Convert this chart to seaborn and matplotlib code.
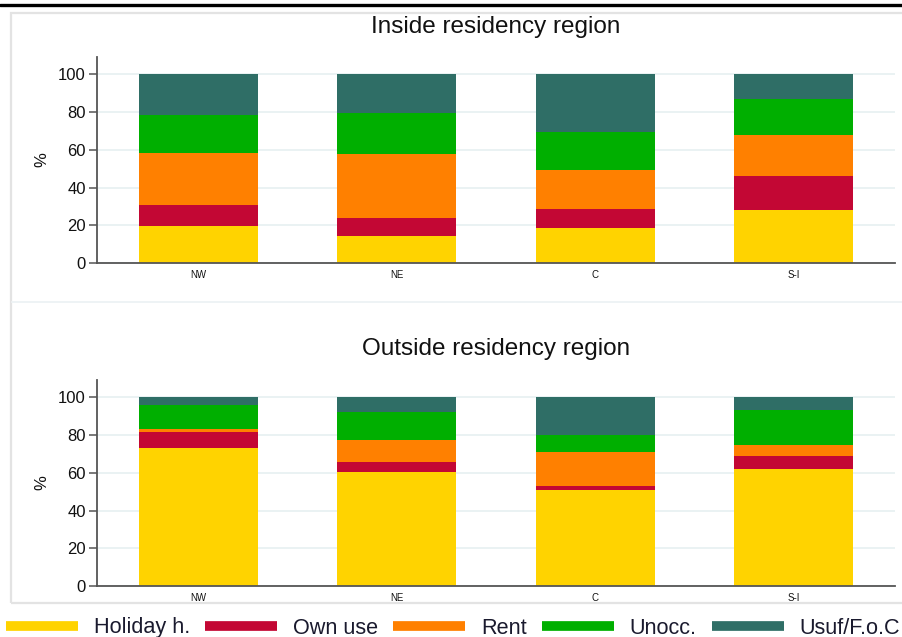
import numpy as np
import pandas as pd
import matplotlib
matplotlib.use("Agg")
import matplotlib.pyplot as plt
import seaborn as sns
from matplotlib.lines import Line2D
from matplotlib.patches import Rectangle

# Regions on the x axis
regions = ["NW", "NE", "C", "S-I"]

# Housing use shares (%) for dwellings inside the owner's residency region
inside_holiday = [19.4, 14.2, 18.4, 27.9]
inside_own_use = [11.2, 9.5, 10.1, 18.1]
inside_rent = [27.5, 33.9, 20.6, 21.6]
inside_unocc = [20.1, 21.7, 20.6, 19.1]
inside_usuf = [21.8, 20.7, 30.3, 13.3]

# Housing use shares (%) for dwellings outside the owner's residency region
outside_holiday = [73.0, 60.3, 50.8, 61.9]
outside_own_use = [8.5, 5.3, 2.1, 6.9]
outside_rent = [1.6, 11.6, 18.0, 5.8]
outside_unocc = [12.7, 14.9, 9.0, 18.5]
outside_usuf = [4.2, 7.9, 20.1, 6.9]

series_names = ["Holiday h.", "Own use", "Rent", "Unocc.", "Usuf/F.o.C"]
series_colors = ["#FFD300", "#C30734", "#FF8000", "#00AF00", "#2F6E66"]

yticks = [0, 20, 40, 60, 80, 100]

panels = [
    ("Inside residency region",
     [inside_holiday, inside_own_use, inside_rent, inside_unocc, inside_usuf]),
    ("Outside residency region",
     [outside_holiday, outside_own_use, outside_rent, outside_unocc, outside_usuf]),
]

sns.set_theme(style="white")
plt.rcParams["font.family"] = ["Liberation Sans", "DejaVu Sans"]

W, H = 902, 637
fig = plt.figure(figsize=(W / 100, H / 100), dpi=100)
fig.patch.set_facecolor("white")


def fx(px):
    return px / W


def fy(py):
    return 1 - py / H


# Outer frame and separators
fig.add_artist(Line2D([0, 1], [fy(4.5), fy(4.5)], color="black", lw=2.4,
                      transform=fig.transFigure))
fig.add_artist(Rectangle((fx(11), fy(603)), fx(920) - fx(11), fy(13) - fy(603),
                         transform=fig.transFigure, fill=False,
                         edgecolor="#E3E3E3", lw=1.6))
fig.add_artist(Line2D([fx(12), 1], [fy(302), fy(302)], color="#EEF3F5", lw=1.4,
                      transform=fig.transFigure))

axes_boxes = [(57, 263), (380, 586)]
title_y = [26.5, 349.5]

for (title, series), (top_px, bot_px), ty in zip(panels, axes_boxes, title_y):
    ax = fig.add_axes([fx(97), fy(bot_px), fx(895) - fx(97), (bot_px - top_px) / H])
    ax.set_facecolor("white")
    for y in yticks:
        ax.axhline(y, color="#EAF2F3", lw=1.4, zorder=0)

    cum = np.cumsum(np.array(series, dtype=float), axis=0)
    # Draw the cumulative totals from the top layer down so each layer shows
    for i in range(len(series) - 1, -1, -1):
        df = pd.DataFrame({"region": regions, "value": cum[i]})
        sns.barplot(data=df, x="region", y="value", order=regions,
                    color=series_colors[i], saturation=1, width=0.6,
                    edgecolor="none", linewidth=0, ax=ax, zorder=2)

    ax.set_xlim(-0.512, 3.512)
    ax.set_ylim(0, 109.2)
    ax.set_yticks(yticks)
    ax.set_yticklabels([str(v) for v in yticks])
    ax.tick_params(axis="y", left=True, length=6, width=1.1, color="#555555",
                   labelsize=12, pad=2, labelcolor="#111111")
    ax.tick_params(axis="x", bottom=False, length=0, labelsize=7, pad=5,
                   labelcolor="#111111")
    ax.set_xlabel("")
    ax.set_ylabel("%", fontsize=12, color="#111111")
    ax.yaxis.set_label_coords(-0.0595, 0.5)
    for side in ["top", "right"]:
        ax.spines[side].set_visible(False)
    for side in ["left", "bottom"]:
        ax.spines[side].set_color("#555555")
        ax.spines[side].set_linewidth(1.3)

    fig.text(fx(496), fy(ty), title, ha="center", va="center",
             fontsize=17.5, color="#111111")

# Legend row along the bottom
handles = [Line2D([0], [0], color=c, lw=7, solid_capstyle="butt") for c in series_colors]
fig.legend(handles, series_names, loc="center left",
           bbox_to_anchor=(fx(0), fy(628)), ncol=5, frameon=False,
           fontsize=15.6, handlelength=3.32, handletextpad=0.74, columnspacing=0.69,
           borderaxespad=0, borderpad=0.28, labelcolor="#1a1a2e")

fig.savefig("out.png", dpi=100, facecolor="white")
